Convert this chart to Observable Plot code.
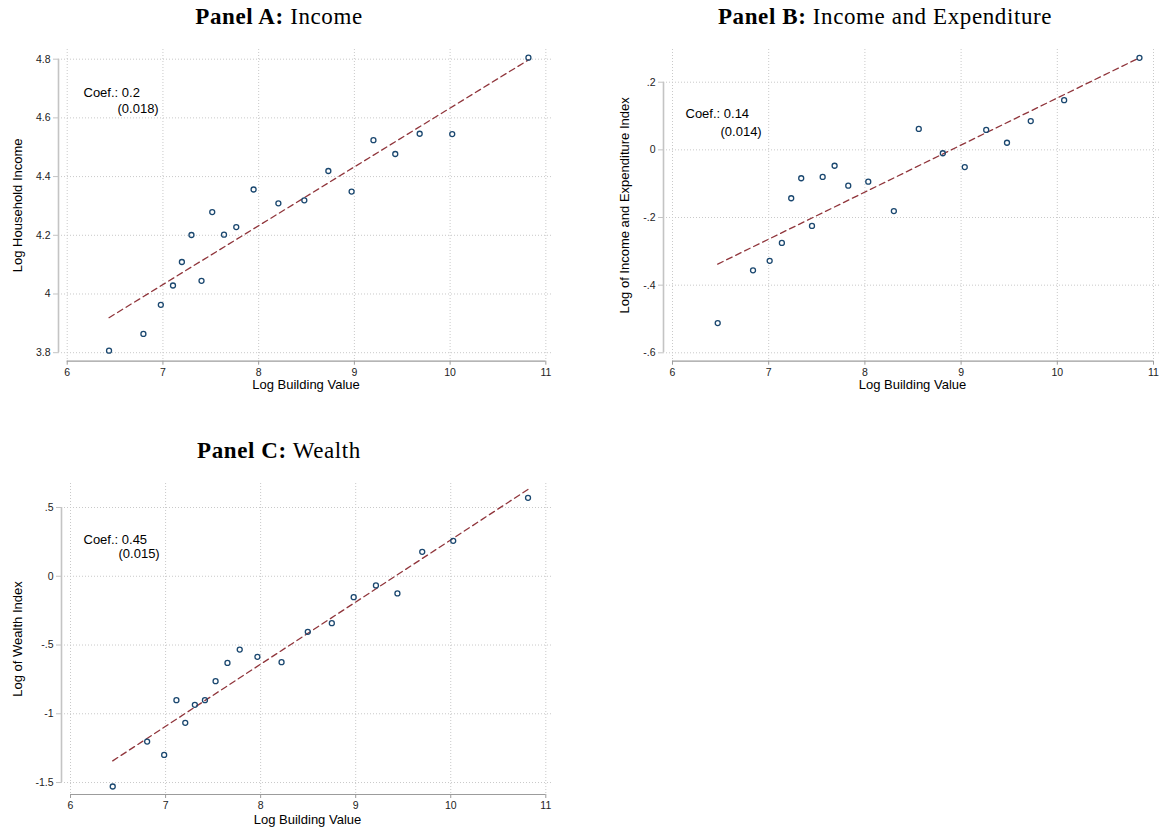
<!DOCTYPE html>
<html>
<head>
<meta charset="utf-8">
<script src="https://cdn.jsdelivr.net/npm/d3@7"></script>
<script src="https://cdn.jsdelivr.net/npm/@observablehq/plot@0.6"></script>
<style>
  html, body { margin: 0; padding: 0; background: #fff; }
  #root { position: relative; width: 1163px; height: 833px; background: #fff; overflow: hidden; }
  .panel { position: absolute; }
  .title { position: absolute; transform: translate(-50%, -50%); font-family: "Liberation Serif", "Times New Roman", serif; font-size: 23px; letter-spacing: 0.6px; white-space: nowrap; color: #000; }
  .title b { font-weight: bold; }
</style>
</head>
<body>
<div id="root"></div>
<script>
// ---------------- data ----------------
const xTicks = [6, 7, 8, 9, 10, 11];
const xTickLabels = ["6", "7", "8", "9", "10", "11"];
const xTitle = "Log Building Value";

// Panel A: Income
const titleA = ["Panel A:", "Income"];
const xA = [6.437, 6.796, 6.978, 7.105, 7.198, 7.298, 7.403, 7.515, 7.638, 7.766, 7.947, 8.206, 8.477, 8.728, 8.971, 9.199, 9.427, 9.682, 10.022, 10.818];
const yA = [3.807, 3.864, 3.963, 4.029, 4.109, 4.201, 4.045, 4.279, 4.202, 4.228, 4.356, 4.309, 4.319, 4.419, 4.349, 4.524, 4.477, 4.546, 4.545, 4.805];
const yTicksA = [4.8, 4.6, 4.4, 4.2, 4.0, 3.8];
const yTickLabelsA = ["4.8", "4.6", "4.4", "4.2", "4", "3.8"];
const yTitleA = "Log Household Income";
const coefA = ["Coef.: 0.2", "(0.018)"];

// Panel B: Income and Expenditure
const titleB = ["Panel B:", "Income and Expenditure"];
const xB = [6.470, 6.837, 7.010, 7.137, 7.234, 7.338, 7.450, 7.561, 7.685, 7.827, 8.035, 8.301, 8.560, 8.810, 9.038, 9.261, 9.477, 9.724, 10.071, 10.854];
const yB = [-0.512, -0.356, -0.328, -0.275, -0.143, -0.084, -0.225, -0.080, -0.047, -0.106, -0.094, -0.181, 0.062, -0.010, -0.051, 0.059, 0.021, 0.085, 0.147, 0.272];
const yTicksB = [0.2, 0, -0.2, -0.4, -0.6];
const yTickLabelsB = [".2", "0", "-.2", "-.4", "-.6"];
const yTitleB = "Log of Income and Expenditure Index";
const coefB = ["Coef.: 0.14", "(0.014)"];

// Panel C: Wealth
const titleC = ["Panel C:", "Wealth"];
const xC = [6.444, 6.806, 6.985, 7.114, 7.207, 7.308, 7.414, 7.526, 7.651, 7.780, 7.966, 8.220, 8.496, 8.749, 8.979, 9.213, 9.439, 9.700, 10.026, 10.813];
const yC = [-1.529, -1.202, -1.299, -0.901, -1.066, -0.935, -0.901, -0.763, -0.630, -0.533, -0.586, -0.625, -0.404, -0.341, -0.152, -0.067, -0.125, 0.178, 0.258, 0.570];
const yTicksC = [0.5, 0, -0.5, -1, -1.5];
const yTickLabelsC = [".5", "0", "-.5", "-1", "-1.5"];
const yTitleC = "Log of Wealth Index";
const coefC = ["Coef.: 0.45", "(0.015)"];

// ---------------- drawing ----------------
const NAVY = "#1a476f";
const MAROON = "#90353b";
const GRID = "#c9c9c9";
const FONT = "'Liberation Sans', Arial, Helvetica, sans-serif";

function makePanel(cfg) {
  const data = cfg.x.map((v, i) => ({bx: v, vy: cfg.y[i]}));
  const fmt = (ticks, labels) => d => labels[ticks.indexOf(d)];
  return Plot.plot({
    width: cfg.width,
    height: cfg.height,
    marginLeft: cfg.marginLeft,
    marginRight: cfg.marginRight,
    marginTop: cfg.marginTop,
    marginBottom: cfg.marginBottom,
    style: {fontFamily: FONT, fontSize: "10.5px", background: "transparent", overflow: "visible", color: "#222"},
    x: {domain: cfg.xDomain, label: null},
    y: {domain: cfg.yDomain, label: null},
    marks: [
      Plot.gridX(xTicks, {stroke: GRID, strokeOpacity: 1, strokeDasharray: "1,2"}),
      Plot.gridY(cfg.yTicks, {stroke: GRID, strokeOpacity: 1, strokeDasharray: "1,2"}),
      Plot.ruleX([cfg.xDomain[0]], {y1: d3.min(cfg.yTicks), y2: d3.max(cfg.yTicks), stroke: "#c4c4c4", strokeWidth: 1.6}),
      Plot.ruleY([cfg.yDomain[0]], {x1: d3.min(xTicks), x2: d3.max(xTicks), stroke: "#9c9c9c", strokeWidth: 1.2}),
      Plot.axisX(xTicks, {anchor: "bottom", tickSize: 4, tickPadding: 3, stroke: "#9c9c9c", fill: "#222", fontSize: 10.5, tickFormat: fmt(xTicks, xTickLabels), label: null}),
      Plot.axisY(cfg.yTicks, {anchor: "left", tickSize: 5, tickPadding: 3, stroke: "#c4c4c4", fill: "#222", fontSize: 10.5, tickFormat: fmt(cfg.yTicks, cfg.yLabels), label: null}),
      Plot.linearRegressionY(data, {x: "bx", y: "vy", ci: 0, stroke: MAROON, strokeWidth: 1.3, strokeDasharray: "6,4"}),
      Plot.dot(data, {x: "bx", y: "vy", r: 2.5, stroke: NAVY, strokeWidth: 1.3, fill: "none"}),
      Plot.text([xTitle], {frameAnchor: "bottom", textAnchor: "middle", dy: cfg.xTitleDy, fontSize: 13, fill: "#000"}),
      Plot.text([cfg.yTitle], {frameAnchor: "left", textAnchor: "middle", rotate: -90, dx: cfg.yTitleDx, fontSize: 13, fill: "#000"}),
      Plot.text([cfg.coef[0]], {frameAnchor: "top-left", textAnchor: "start", dx: cfg.ann[0], dy: cfg.ann[1], fontSize: 13, fill: "#000"}),
      Plot.text([cfg.coef[1]], {frameAnchor: "top-left", textAnchor: "start", dx: cfg.ann[2], dy: cfg.ann[3], fontSize: 13, fill: "#000"})
    ]
  });
}

const root = document.getElementById("root");

function place(node, left, top) {
  const div = document.createElement("div");
  div.className = "panel";
  div.style.left = left + "px";
  div.style.top = top + "px";
  div.appendChild(node);
  root.appendChild(div);
}

function addTitle(parts, cx, cy) {
  const t = document.createElement("div");
  t.className = "title";
  t.style.left = cx + "px";
  t.style.top = cy + "px";
  const b = document.createElement("b");
  b.textContent = parts[0];
  t.appendChild(b);
  t.appendChild(document.createTextNode(" " + parts[1]));
  root.appendChild(t);
}

place(makePanel({
  x: xA, y: yA, yTicks: yTicksA, yLabels: yTickLabelsA, yTitle: yTitleA, coef: coefA,
  width: 580, height: 400, marginLeft: 58, marginRight: 27, marginTop: 49, marginBottom: 39.3,
  xDomain: [5.909, 11.08], yDomain: [3.771, 4.833],
  xTitleDy: 28, yTitleDx: -41, ann: [25, 38, 59, 54]
}), 0, 0);

place(makePanel({
  x: xB, y: yB, yTicks: yTicksB, yLabels: yTickLabelsB, yTitle: yTitleB, coef: coefB,
  width: 583, height: 400, marginLeft: 83, marginRight: 2, marginTop: 49, marginBottom: 39.3,
  xDomain: [5.9065, 11.083], yDomain: [-0.6248, 0.2967],
  xTitleDy: 28, yTitleDx: -39, ann: [22, 59, 57, 77]
}), 580, 0);

place(makePanel({
  x: xC, y: yC, yTicks: yTicksC, yLabels: yTickLabelsC, yTitle: yTitleC, coef: coefC,
  width: 580, height: 403, marginLeft: 61, marginRight: 27, marginTop: 53, marginBottom: 39,
  xDomain: [5.905, 11.081], yDomain: [-1.587, 0.6745],
  xTitleDy: 29, yTitleDx: -44, ann: [22, 51, 57, 65]
}), 0, 430);

addTitle(titleA, 279, 17);
addTitle(titleB, 885, 17);
addTitle(titleC, 279, 451);
</script>
</body>
</html>
